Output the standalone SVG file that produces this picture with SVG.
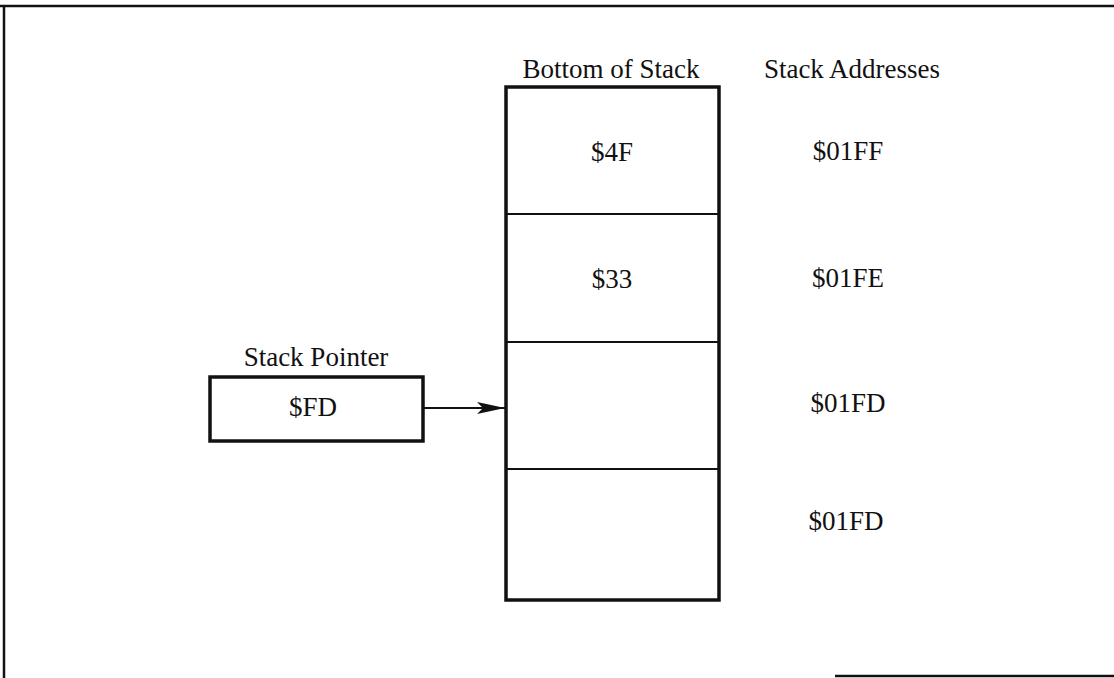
<svg xmlns="http://www.w3.org/2000/svg" width="1114" height="678" viewBox="0 0 1114 678">
<defs>
<style>
text{font-family:"Liberation Serif","Times New Roman",serif;font-size:27px;fill:#111;text-anchor:middle}
.box{fill:#fff;stroke:#111;stroke-width:3.5}
.div{stroke:#111;stroke-width:2;fill:none}
.frame{stroke:#111;stroke-width:2.5;fill:none}
</style>
<marker id="ah" viewBox="0 0 28 12" refX="28" refY="6" markerWidth="28" markerHeight="12" markerUnits="userSpaceOnUse" orient="auto">
<path d="M0,0 L28,6 L0,12 L6,6 Z" fill="#111"/>
</marker>
</defs>
<rect width="1114" height="678" fill="#fff"/>
<path class="frame" d="M0,6 H1114 M4,6 V678 M835,676 H1114"/>
<g id="stack">
<rect class="box" x="506" y="87" width="213" height="513"/>
<path class="div" d="M506,214 H719 M506,342 H719 M506,469 H719"/>
<text x="611" y="78">Bottom of Stack</text>
<text x="612" y="161">$4F</text>
<text x="612" y="288">$33</text>
</g>
<g id="addresses">
<text x="852" y="78">Stack Addresses</text>
<text x="848" y="160">$01FF</text>
<text x="848" y="287">$01FE</text>
<text x="848" y="412">$01FD</text>
<text x="846" y="530">$01FD</text>
</g>
<g id="stack-pointer">
<rect class="box" x="210" y="377" width="213" height="64"/>
<text x="316" y="366">Stack Pointer</text>
<text x="313" y="416">$FD</text>
</g>
<g id="connectors">
<line x1="424" y1="408" x2="505" y2="408" stroke="#111" stroke-width="2" marker-end="url(#ah)"/>
</g>
</svg>
